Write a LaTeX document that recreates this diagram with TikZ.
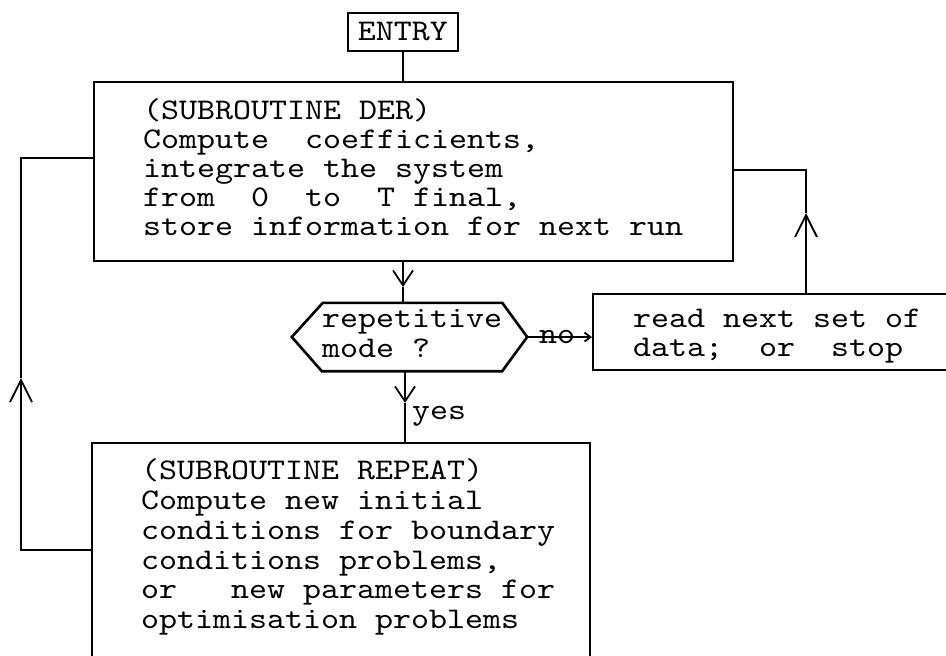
\documentclass[tikz,border=0pt]{standalone}
\usepackage{fontspec}
\setmonofont{lmmono10-regular.otf}[FakeStretch=1.143]
\usetikzlibrary{arrows.meta}
\begin{document}
\begin{tikzpicture}[x=1pt,y=-1pt,
  box/.style={draw, line width=1.8pt, rectangle, inner sep=0pt, anchor=north west},
  txt/.style={anchor=base west, inner sep=0pt, font=\ttfamily\fontsize{30pt}{30pt}\selectfont\frenchspacing},
  conn/.style={line width=1.8pt},
  vtip/.style={-{Straight Barb[length=15pt,width=20pt]}},
  btip/.style={-{Straight Barb[length=22pt,width=22pt]}},
  stip/.style={-{Straight Barb[length=6pt,width=9pt]}}
]
\useasboundingbox (0,0) rectangle (946,656);
\clip (0,0) rectangle (946,656);

% boxes
\node[box, minimum width=110pt, minimum height=38pt, font=\ttfamily\fontsize{30pt}{30pt}\selectfont] (entry) at (347,12) {ENTRY};
\node[box, minimum width=639pt, minimum height=179pt] (der) at (93,81) {};
\node[box, minimum width=400pt, minimum height=76pt] (read) at (592,293) {};
\node[box, minimum width=498pt, minimum height=260pt] (rep) at (91,442) {};
\node[inner sep=0pt, minimum width=235pt, minimum height=68pt] (dec) at (409.5,337) {};
\draw[line width=2.6pt, line join=miter]
  (dec.west) -- ([xshift=31pt]dec.north west) -- ([xshift=-25pt]dec.north east)
  -- (dec.east) -- ([xshift=-25pt]dec.south east) -- ([xshift=30pt]dec.south west) -- cycle;

% texts
\node[txt] (t1) at (143,119) {(SUBROUTINE DER)};
\node[txt] (t2) at (143,148) {Compute\ \ coefficients,};
\node[txt] (t3) at (143,177) {integrate the system};
\node[txt] (t4) at (143,206) {from\ \ 0\ \ to\ \ T final,};
\node[txt] (t5) at (143,235) {store information for next run};

\node[txt] (d1) at (322,327) {repetitive};
\node[txt] (d2) at (322,357) {mode ?};

\node[txt] (r1) at (633,327) {read next set of};
\node[txt] (r2) at (633,356) {data;\ \ or\ \ stop};

\node[txt] (p1) at (141,479) {(SUBROUTINE REPEAT)};
\node[txt] (p2) at (141,509) {Compute new initial};
\node[txt] (p3) at (141,539) {conditions for boundary};
\node[txt] (p4) at (141,569) {conditions problems,};
\node[txt] (p5) at (141,598) {or\ \ \ new parameters for};
\node[txt] (p6) at (141,628) {optimisation problems};

\node[txt] (yes) at (412,419) {yes};
\node[txt] (no) at (539,343) {no};

% coordinates
\coordinate (atop) at (403,287);
\coordinate (ayes) at (405,403);
\coordinate (rtip) at (806,213);
\coordinate (rc) at (806,170);
\coordinate (ltip) at (21,378);
\coordinate (lc1) at (21,158);
\coordinate (lc2) at (21,550);

% connectors
\draw[conn] (entry.south) -- (entry.south |- der.north);
\draw[conn, vtip] (atop |- der.south) -- (atop);
\draw[conn] (atop) -- (atop |- dec.north);
\draw[conn, vtip] (ayes |- dec.south) -- (ayes);
\draw[conn] (ayes) -- (ayes |- rep.north);
\draw[conn, stip] (dec.east) -- (dec.east -| read.west);
\draw[conn, btip] (rtip |- read.north) -- (rtip);
\draw[conn] (rtip) -- (rc) -- (rc -| der.east);
\draw[conn, btip] (lc2 -| rep.west) -- (lc2) -- (ltip);
\draw[conn] (ltip) -- (lc1) -- (lc1 -| der.west);
\end{tikzpicture}
\end{document}
